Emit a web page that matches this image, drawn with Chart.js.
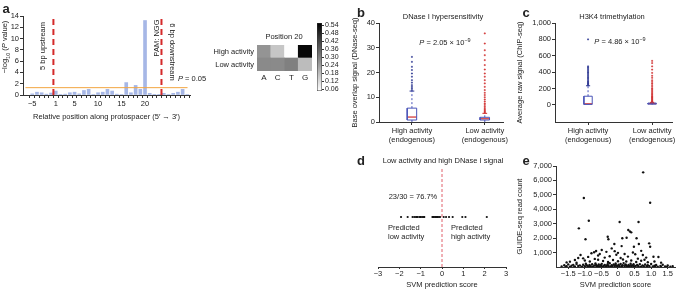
<!DOCTYPE html>
<html>
<head>
<meta charset="utf-8">
<script src="https://cdn.jsdelivr.net/npm/chart.js@4.4.1/dist/chart.umd.min.js"></script>
<style>
  body { margin: 0; background: #fff; }
  #fig { position: relative; width: 685px; height: 289px; overflow: hidden; background: #fff;
         font-family: "Liberation Sans", Arial, sans-serif; color: #222; }
  #fig canvas { position: absolute; }
  .t { position: absolute; white-space: nowrap; line-height: 1; font-size: 7.5px; transform: translate(-50%, -50%); }
  .t sub, .t sup { font-size: 5.5px; line-height: 0; }
  .letter { font-weight: bold; font-size: 13px; }
  .left { transform: translate(0, -50%); }
</style>
</head>
<body>
<div id="fig">
  <canvas id="chart-a" width="200" height="125" style="left:0;top:0"></canvas>
  <canvas id="chart-heat" width="110" height="55" style="left:205px;top:30px"></canvas>
  <canvas id="chart-bar" width="40" height="85" style="left:312px;top:15px"></canvas>
  <canvas id="chart-b" width="160" height="132" style="left:350px;top:15px"></canvas>
  <canvas id="chart-c" width="165" height="132" style="left:515px;top:15px"></canvas>
  <canvas id="chart-d" width="160" height="129" style="left:360px;top:160px"></canvas>
  <canvas id="chart-e" width="165" height="131" style="left:515px;top:158px"></canvas>

  <div class="t letter" style="left:6px;top:8px">a</div>
  <div class="t letter" style="left:361px;top:12px">b</div>
  <div class="t letter" style="left:526px;top:12px">c</div>
  <div class="t letter" style="left:361px;top:160px">d</div>
  <div class="t letter" style="left:526px;top:160px">e</div>

  <div class="t" style="left:5px;top:47px;transform:translate(-50%,-50%) rotate(-90deg)">−log<sub>10</sub> (<i>P</i> value)</div>
  <div class="t" style="left:43px;top:46px;transform:translate(-50%,-50%) rotate(-90deg)">5 bp upstream</div>
  <div class="t" style="left:157px;top:38px;transform:translate(-50%,-50%) rotate(-90deg)">PAM: NGG</div>
  <div class="t" style="left:172px;top:52px;transform:translate(-50%,-50%) rotate(90deg)">6 bp downstream</div>
  <div class="t" style="left:192px;top:79px"><i>P</i> = 0.05</div>
  <div class="t" style="left:284px;top:37px">Position 20</div>

  <div class="t" style="left:443px;top:17px">DNase I hypersensitivity</div>
  <div class="t" style="left:445px;top:43px"><i>P</i> = 2.05 × 10<sup>−9</sup></div>
  <div class="t" style="left:612px;top:17px">H3K4 trimethylation</div>
  <div class="t" style="left:620px;top:42px"><i>P</i> = 4.86 × 10<sup>−9</sup></div>

  <div class="t" style="left:443px;top:161px">Low activity and high DNase I signal</div>
  <div class="t" style="left:413px;top:197px">23/30 = 76.7%</div>
  <div class="t left" style="left:388px;top:228px">Predicted</div>
  <div class="t left" style="left:388px;top:237px">low activity</div>
  <div class="t left" style="left:451px;top:228px">Predicted</div>
  <div class="t left" style="left:451px;top:237px">high activity</div>
</div>

<script>
Chart.defaults.font.family = '"Liberation Sans", Arial, sans-serif';
Chart.defaults.font.size = 7.5;
Chart.defaults.color = "#222";
Chart.defaults.animation = false;
Chart.defaults.responsive = false;
Chart.defaults.plugins.legend.display = false;
Chart.defaults.plugins.tooltip.enabled = false;

// ---- panel a: -log10 P per position ----
const positions = [-5, -4, -3, -2, -1, 1, 2, 3, 4, 5, 6, 7, 8, 9, 10, 11, 12, 13, 14, 15, 16,
  17, 18, 19, 20, 21, 22, 23, 24, 25, 26, 27, 28, 29];
const positionTicks = [-5, 1, 5, 10, 15, 20];
const negLogP = [0.2, 0.5, 0.4, 0.15, 0.35, 0.7, 0.1, 0.15, 0.4, 0.5, 0.2, 0.8, 1.0, 0.1,
  0.4, 0.5, 1.0, 0.7, 0.15, 0.1, 2.2, 0.4, 1.7, 1.0, 13.2, 0.3, 0.05, 0.05, 0.3, 0.1, 0.3,
  0.5, 1.0, 0.1];
const pCutoff = 0.05;

// ---- heatmap, position 20 ----
const nucleotides = ["A", "C", "T", "G"];
const pos20High = [0.26, 0.16, 0.05, 0.54];
const pos20Low = [0.28, 0.28, 0.3, 0.18];
const colorTicks = [0.06, 0.12, 0.18, 0.24, 0.3, 0.36, 0.42, 0.48, 0.54];
const colorMin = 0.045;
const colorMax = 0.557;

// ---- panels b, c: box plots ----
const groups = [["High activity", "(endogenous)"], ["Low activity", "(endogenous)"]];
const dnaseHigh = { lo: 0, q1: 0.8, med: 2.0, q3: 5.6, hi: 12.5 };
const dnaseLow = { lo: 0, q1: 0.8, med: 1.3, q3: 1.9, hi: 3.5 };
const dnaseHighOut = [26.3, 24.3, 22.3, 21.0, 19.6, 18.3, 16.9, 15.9, 14.9, 14.2, 13.6, 12.9];
const dnaseLowOut = [35.8, 31.7, 29.0, 27.0, 25.0, 23.0, 21.2, 19.6, 18.3, 16.9, 15.6, 14.2,
  12.9, 11.8, 10.9, 10.0, 9.1, 8.3, 7.5, 6.9, 6.2, 5.6, 5.1, 4.6, 4.2, 3.8];
const h3k4High = { lo: 0, q1: 5, med: 12, q3: 105, hi: 233 };
const h3k4Low = { lo: 0, q1: 8, med: 15, q3: 22, hi: 30 };
const h3k4HighOut = [800, 470, 455, 440, 425, 410, 395, 380, 365, 350, 335, 320, 305, 290,
  280, 270, 260, 250, 240];
const h3k4LowOut = [537, 510, 470, 430, 390, 355, 330, 300, 280, 260, 240, 220, 200, 185, 170,
  155, 140, 125, 110, 100, 90, 80, 70, 60, 50, 42, 35];

// ---- panel d: SVM scores of low activity / high DNase sites ----
const svmScores = [-1.92, -1.61, -1.38, -1.3, -1.22, -1.18, -1.14, -1.06, -1.0, -0.99, -0.91,
  -0.85, -0.83, -0.45, -0.42, -0.39, -0.33, -0.3, -0.26, -0.22, -0.2, -0.14, -0.09, 0.08, 0.19,
  0.33, 0.5, 0.95, 1.1, 2.1];

// ---- panel e: SVM score vs GUIDE-seq reads ----
const guideX = [0.76, -1.03, 0.97, -0.88, 0.05, 0.62, -1.18, 0.31, 0.36, 0.4, -0.31, -0.29,
  -0.98, 0.13, 0.26, 0.56, 0.63, 0.48, 0.94, 0.97, -0.11, 0.11, -1.13, -0.66, -0.49, -0.19,
  1.07, 1.22, 0.75, -1.45, -1.3,
  -0.8, -0.72, -0.55, -0.35, -0.1, 0.0, 0.2, 0.45, 0.7,
  -1.05, -0.9, -0.6, -0.4, -0.25, -0.05, 0.08, 0.3, 0.52, 0.85, 0.6, -0.7, -1.2,
  -1.55, -1.0, -0.85, -0.6, -0.45, -0.3, -0.15, 0.0, 0.15, 0.25, 0.4, 0.55, 0.7, 0.9, 1.1,
  1.3, -1.25, 0.8,
  -1.7, -1.62, -1.55, -1.5, -1.45, -1.4, -1.35, -1.3, -1.25, -1.2, -1.15, -1.1, -1.05, -1.0,
  -0.97, -0.93, -0.9, -0.86, -0.82, -0.78, -0.75, -0.71, -0.68, -0.65, -0.62, -0.58, -0.55,
  -0.52, -0.49, -0.46, -0.43, -0.4, -0.37, -0.34, -0.31, -0.28, -0.25, -0.22, -0.19, -0.16,
  -0.13, -0.1, -0.07, -0.04, -0.01, 0.02, 0.05, 0.08, 0.11, 0.14, 0.17, 0.2, 0.23, 0.26, 0.29,
  0.32, 0.35, 0.38, 0.41, 0.44, 0.47, 0.5, 0.54, 0.58, 0.62, 0.66, 0.7, 0.74, 0.78, 0.82, 0.86,
  0.9, 0.95, 1.0, 1.05, 1.1, 1.15, 1.2, 1.28, 1.35, 1.42, 1.5, 1.58, 1.65,
  -1.58, -1.32, -1.08, -0.88, -0.6, -0.36, -0.2, -0.02, 0.12, 0.3, 0.48, 0.68, 0.88, 1.12,
  1.3, 1.48, -0.95, -0.5, -0.08, 0.4, 0.6, -0.3, -0.66, 0.22];
const guideY = [6560, 4780, 4450, 3210, 3120, 3120, 2680, 2560, 2460, 2400, 2100, 1920,
  1920, 1990, 2030, 1990, 1590, 1400, 1640, 1400, 1590, 1450, 830, 1110, 1180, 1290,
  710, 690, 830, 370, 480,
  950, 1020, 900, 1050, 1100, 980, 900, 1000, 1120,
  600, 700, 800, 650, 750, 850, 620, 720, 880, 650, 580, 560, 620,
  320, 450, 380, 500, 420, 350, 480, 400, 520, 380, 450, 350, 430, 330, 380,
  300, 300, 500,
  40, 120, 60, 180, 20, 90, 150, 30, 200, 70, 110, 10, 160, 50,
  230, 90, 20, 140, 60, 190, 30, 100, 250, 15, 80, 170, 40,
  120, 220, 10, 70, 150, 30, 110, 200, 50, 260, 20, 130, 80,
  180, 35, 240, 100, 15, 160, 60, 210, 25, 120, 270, 45, 170, 90, 10,
  140, 60, 230, 30, 110, 190, 20, 80, 150, 40, 200, 15, 100, 60, 170, 25,
  120, 50, 210, 30, 90, 140, 20, 70, 160, 40, 100, 25, 60,
  10, 5, 25, 45, 55, 8, 60, 40, 70, 35, 55, 5, 70, 50,
  15, 5, 130, 90, 120, 100, 95, 95, 140, 130];

const AXIS = "#333";
const BLUE = "#4a55b8";
const NAVY = "#2b3590";
const RED = "#cf2b2b";

// fixed-size axes so the plot areas land where the figure has them
const fixW = (w) => (s) => { s.width = w; };
const fixH = (h) => (s) => { s.height = h; };
const axisBorder = { color: AXIS, width: 1 };
const tickGrid = { drawOnChartArea: false, color: AXIS, tickLength: 3 };
const noGrid = { display: false, drawTicks: false, tickLength: 0 };
const minus = (v) => (v < 0 ? "−" + Math.abs(v) : String(v));

// panel a
const cutY = -Math.log10(pCutoff);
const xMinA = -1.45;
const xMaxA = positions.length - 0.95;
const bounds = [positions.indexOf(-1) + 0.5, positions.indexOf(23) + 0.5];
const dashed = (x) => ({
  type: "line",
  data: [{ x: x, y: 0 }, { x: x, y: 14 }],
  borderColor: "#d42a2a",
  borderWidth: 2,
  borderDash: [6, 4],
  pointRadius: 0,
  order: 1,
});

new Chart(document.getElementById("chart-a"), {
  type: "bar",
  data: {
    datasets: [
      {
        data: negLogP.map((v, i) => ({ x: i, y: v })),
        backgroundColor: "#a6b7e6",
        barThickness: 3,
        order: 3,
      },
      {
        type: "line",
        data: [{ x: xMinA, y: cutY }, { x: xMaxA, y: cutY }],
        borderColor: "#f2a541",
        borderWidth: 1,
        pointRadius: 0,
        order: 2,
      },
      dashed(bounds[0]),
      dashed(bounds[1]),
    ],
  },
  options: {
    layout: { padding: { left: 0, top: 16, right: 10, bottom: 0 } },
    scales: {
      x: {
        type: "linear",
        min: xMinA,
        max: xMaxA,
        afterBuildTicks: (s) => { s.ticks = positions.map((p, i) => ({ value: i })); },
        afterFit: fixH(30),
        border: axisBorder,
        grid: tickGrid,
        ticks: {
          autoSkip: false,
          maxRotation: 0,
          padding: 1,
          callback: (v) => (positionTicks.includes(positions[v]) ? minus(positions[v]) : ""),
        },
        title: {
          display: true,
          text: "Relative position along protospacer (5′ → 3′)",
          padding: { top: 0, bottom: 4 },
        },
      },
      y: {
        min: 0,
        max: 14,
        afterFit: fixW(23),
        border: axisBorder,
        grid: tickGrid,
        ticks: { stepSize: 2, padding: 1, autoSkip: false },
      },
    },
  },
});

// heatmap for position 20
const gray = (v) => {
  const g = Math.round(255 * (1 - (v - colorMin) / (colorMax - colorMin)));
  return `rgb(${g},${g},${g})`;
};
new Chart(document.getElementById("chart-heat"), {
  type: "bar",
  data: {
    labels: nucleotides,
    datasets: [
      { data: nucleotides.map(() => 1), backgroundColor: pos20Low.map(gray) },
      { data: nucleotides.map(() => 1), backgroundColor: pos20High.map(gray) },
    ],
  },
  options: {
    layout: { padding: { left: 0, top: 15, right: 3, bottom: 0 } },
    datasets: { bar: { barPercentage: 1, categoryPercentage: 1, borderWidth: 0 } },
    scales: {
      x: {
        stacked: true,
        afterFit: fixH(14),
        border: { display: false },
        grid: noGrid,
        ticks: { padding: 2, maxRotation: 0, minRotation: 0, autoSkip: false, font: { size: 8 } },
      },
      y: {
        stacked: true,
        min: 0,
        max: 2,
        afterBuildTicks: (s) => { s.ticks = [{ value: 0.5 }, { value: 1.5 }]; },
        afterFit: fixW(52),
        border: { display: false },
        grid: noGrid,
        ticks: {
          padding: 3,
          autoSkip: false,
          callback: (v) => (v < 1 ? "Low activity" : "High activity"),
        },
      },
    },
  },
});

// colour bar
new Chart(document.getElementById("chart-bar"), {
  type: "bar",
  data: {
    labels: [""],
    datasets: [
      {
        data: [[colorMin, colorMax]],
        borderColor: AXIS,
        borderWidth: 0.8,
        borderSkipped: false,
        barPercentage: 1,
        categoryPercentage: 1,
        backgroundColor: (ctx) => {
          const area = ctx.chart.chartArea;
          if (!area) return "#888";
          const g = ctx.chart.ctx.createLinearGradient(0, area.bottom, 0, area.top);
          g.addColorStop(0, "#ffffff");
          g.addColorStop(1, "#000000");
          return g;
        },
      },
    ],
  },
  options: {
    layout: { padding: { left: 5, top: 8, right: 5, bottom: 9 } },
    scales: {
      x: { display: false },
      y: {
        position: "right",
        min: colorMin,
        max: colorMax,
        afterBuildTicks: (s) => { s.ticks = colorTicks.map((v) => ({ value: v })); },
        afterFit: fixW(25),
        border: { display: false },
        grid: { drawOnChartArea: false, color: AXIS, tickLength: 2 },
        ticks: { padding: 1, autoSkip: false, font: { size: 7 }, callback: (v) => v.toFixed(2) },
      },
    },
  },
});

// box plot pieces drawn as scatter lines
function boxPlot(xc, s, outliers, outColor) {
  const w = 0.065;
  const seg = (pts, color, width, dash) => ({
    data: pts,
    showLine: true,
    borderColor: color,
    borderWidth: width,
    borderDash: dash || [],
    pointRadius: 0,
  });
  return [
    seg([{ x: xc, y: s.q3 }, { x: xc, y: s.hi }], BLUE, 1, [2, 2]),
    seg([{ x: xc, y: s.q1 }, { x: xc, y: s.lo }], BLUE, 1, [2, 2]),
    seg([{ x: xc - w / 2, y: s.hi }, { x: xc + w / 2, y: s.hi }], outColor, 1),
    {
      data: outliers.map((v) => ({ x: xc, y: v })),
      pointStyle: "cross",
      pointRadius: 1,
      borderWidth: 0.8,
      borderColor: outColor,
    },
    seg([
      { x: xc - w, y: s.q1 }, { x: xc + w, y: s.q1 }, { x: xc + w, y: s.q3 },
      { x: xc - w, y: s.q3 }, { x: xc - w, y: s.q1 },
    ], BLUE, 1),
    seg([{ x: xc - w, y: s.med }, { x: xc + w, y: s.med }], RED, 1.2),
  ];
}

function boxChart(id, high, highOut, low, lowOut, yOpts, xRange, layoutPad, yw) {
  return new Chart(document.getElementById(id), {
    type: "scatter",
    data: {
      datasets: [
        ...boxPlot(1, high, highOut, NAVY),
        ...boxPlot(2, low, lowOut, RED),
      ],
    },
    options: {
      layout: { padding: layoutPad },
      scales: {
        x: {
          min: xRange[0],
          max: xRange[1],
          afterBuildTicks: (s) => { s.ticks = [{ value: 1 }, { value: 2 }]; },
          afterFit: fixH(25),
          border: axisBorder,
          grid: tickGrid,
          ticks: { padding: 1, maxRotation: 0, callback: (v) => groups[v - 1] },
        },
        y: Object.assign({
          afterFit: fixW(yw),
          border: axisBorder,
          grid: tickGrid,
        }, yOpts),
      },
    },
  });
}

boxChart("chart-b", dnaseHigh, dnaseHighOut, dnaseLow, dnaseLowOut, {
  min: 0,
  max: 40,
  ticks: { stepSize: 10, padding: 1, autoSkip: false },
  title: { display: true, text: "Base overlap signal (DNase-seq)", padding: 0 },
}, [0.548, 2.25], { left: 0, top: 8, right: 7, bottom: 0 }, 29);

boxChart("chart-c", h3k4High, h3k4HighOut, h3k4Low, h3k4LowOut, {
  min: -210,
  max: 1000,
  afterBuildTicks: (s) => { s.ticks = [0, 200, 400, 600, 800, 1000].map((v) => ({ value: v })); },
  ticks: { padding: 1, autoSkip: false, callback: (v) => v.toLocaleString("en-US") },
  title: { display: true, text: "Average raw signal (ChIP-seq)", padding: 0 },
}, [0.484, 2.31], { left: 0, top: 8, right: 8, bottom: 0 }, 40);

// panel d
const stripY = 0.5;
new Chart(document.getElementById("chart-d"), {
  type: "scatter",
  data: {
    datasets: [
      {
        data: [{ x: 0, y: 0 }, { x: 0, y: 1 }],
        showLine: true,
        borderColor: "#e0606a",
        borderWidth: 1,
        borderDash: [3, 2],
        pointRadius: 0,
      },
      {
        data: svmScores.map((v) => ({ x: v, y: stripY })),
        pointRadius: 1.1,
        backgroundColor: "#111",
        borderWidth: 0,
      },
    ],
  },
  options: {
    layout: { padding: { left: 18, top: 7, right: 14, bottom: 0 } },
    scales: {
      x: {
        min: -3,
        max: 3,
        afterFit: fixH(22),
        border: axisBorder,
        grid: { drawOnChartArea: false, color: AXIS, tickLength: 2 },
        ticks: { stepSize: 1, padding: 0, autoSkip: false, callback: minus },
        title: { display: true, text: "SVM prediction score", padding: 0 },
      },
      y: { display: false, min: 0, max: 1 },
    },
  },
});

// panel e
const fmt1 = (v) => (v === 0 ? "0" : (v < 0 ? "−" : "") + Math.abs(v).toFixed(1));
new Chart(document.getElementById("chart-e"), {
  type: "scatter",
  data: {
    datasets: [
      {
        data: guideX.map((x, i) => ({ x: x, y: guideY[i] })),
        pointRadius: 1.2,
        backgroundColor: "#111",
        borderWidth: 0,
      },
    ],
  },
  options: {
    layout: { padding: { left: 0, top: 8, right: 5, bottom: 0 } },
    scales: {
      x: {
        min: -1.87,
        max: 1.72,
        afterBuildTicks: (s) => { s.ticks = [-1.5, -1, -0.5, 0, 0.5, 1, 1.5].map((v) => ({ value: v })); },
        afterFit: fixH(22),
        border: axisBorder,
        grid: { drawOnChartArea: false, color: AXIS, tickLength: 2 },
        ticks: { padding: 0, maxRotation: 0, autoSkip: false, callback: fmt1 },
        title: { display: true, text: "SVM prediction score", padding: 0 },
      },
      y: {
        min: 0,
        max: 7000,
        afterBuildTicks: (s) => { s.ticks = [1000, 2000, 3000, 4000, 5000, 6000, 7000].map((v) => ({ value: v })); },
        afterFit: fixW(41),
        border: axisBorder,
        grid: tickGrid,
        ticks: { padding: 1, autoSkip: false, callback: (v) => v.toLocaleString("en-US") },
        title: { display: true, text: "GUIDE-seq read count", padding: 0 },
      },
    },
  },
});
</script>
</body>
</html>
